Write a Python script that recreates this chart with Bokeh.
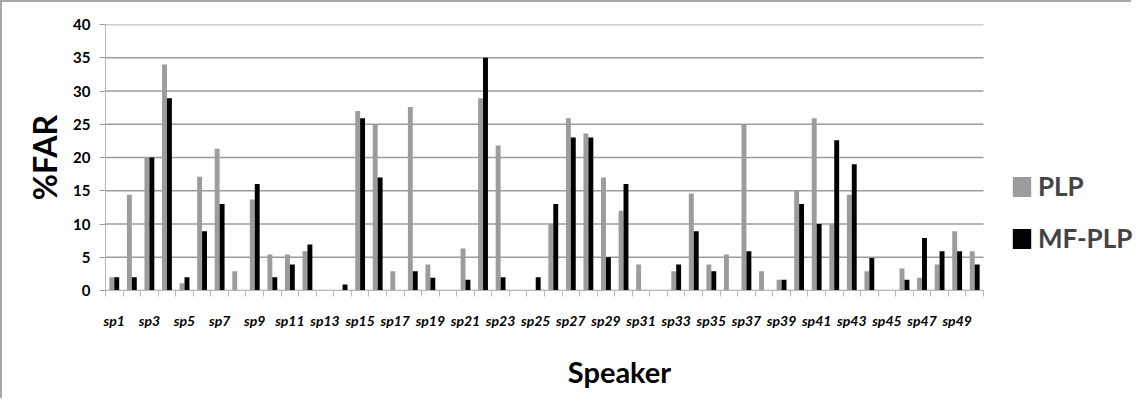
from bokeh.plotting import figure
from bokeh.models import (ColumnDataSource, Range1d, FixedTicker,
                          Legend, LegendItem)
from bokeh.transform import dodge
from bokeh.embed import file_html
from bokeh.resources import INLINE

speakers = [f"sp{i}" for i in range(1, 51)]
plp = [2, 14.4, 20, 34, 1.1, 17.1, 21.3, 2.9, 13.7, 5.4,
       5.4, 5.9, 0, 0, 27, 25, 2.9, 27.6, 3.9, 0,
       6.3, 28.9, 21.8, 0, 0, 10, 25.9, 23.6, 17, 12,
       3.9, 0, 2.9, 14.6, 3.9, 5.4, 25, 2.9, 1.6, 15,
       25.9, 10, 14.4, 2.9, 0, 3.3, 1.9, 3.9, 8.9, 5.9]
mf_plp = [2, 2, 20, 28.9, 2, 8.9, 13, 0, 16, 2,
          3.9, 6.9, 0, 0.9, 25.9, 17, 0, 2.9, 1.9, 0,
          1.6, 35, 2, 0, 2, 13, 23, 23, 5, 16,
          0, 0, 3.9, 8.9, 2.9, 0, 5.9, 0, 1.6, 13,
          10, 22.6, 19, 4.9, 0, 1.6, 7.9, 5.9, 5.9, 3.9]
y_ticks = [0, 5, 10, 15, 20, 25, 30, 35, 40]

n = len(speakers)
idx = list(range(1, n + 1))
src = ColumnDataSource(dict(x=idx, plp=plp, mf=mf_plp, name=speakers))

FONT = "Lato"
GRAY = "#9c9c9c"
AXC = "#b8b8b8"

W, H = 1131, 398
LEFT, TOP, BOTTOM = 103, 22, 110
PLOT_W = 878                      # pixel width of the category area
frame_w = W - LEFT
x_end = 0.5 + n * frame_w / PLOT_W  # extra room on the right for the legend

p = figure(width=W, height=H, output_backend="svg", toolbar_location=None,
           x_range=Range1d(0.5, x_end), y_range=Range1d(0, 40),
           min_border_left=LEFT, min_border_right=0, min_border_top=TOP,
           min_border_bottom=BOTTOM)
p.outline_line_color = None
p.background_fill_color = "white"
p.border_fill_color = "white"
p.styles = {"border-left": "2px solid #a8a8a8", "border-top": "2px solid #a8a8a8"}

# horizontal grid lines limited to the category area
p.xgrid.visible = False
p.ygrid.visible = False
p.segment(x0=0.5, x1=n + 0.5, y0=y_ticks, y1=y_ticks,
          line_color=GRAY, line_width=1.5, level="underlay")

r1 = p.vbar(x=dodge("x", -0.14, range=p.x_range), top="plp", width=0.28,
            source=src, fill_color=GRAY, line_color=None)
r2 = p.vbar(x=dodge("x", 0.14, range=p.x_range), top="mf", width=0.28,
            source=src, fill_color="black", line_color=None)

# y axis
ya = p.yaxis[0]
ya.ticker = FixedTicker(ticks=y_ticks)
ya.axis_line_color = AXC
ya.major_tick_line_color = GRAY
ya.major_tick_out = 6
ya.major_tick_in = 0
ya.minor_tick_line_color = None
ya.major_label_standoff = 9
ya.major_label_text_font = FONT
ya.major_label_text_font_style = "bold"
ya.major_label_text_font_size = "15px"
ya.major_label_text_color = "black"
ya.axis_label = "%FAR"
ya.axis_label_text_font = FONT
ya.axis_label_text_font_style = "bold"
ya.axis_label_text_font_size = "32px"
ya.axis_label_text_color = "black"
ya.axis_label_standoff = 6

# x axis: labels every other speaker, tick marks at category boundaries
odd = idx[::2]
xa = p.xaxis[0]
xa.bounds = (0.5, n + 0.5)
xa.ticker = FixedTicker(ticks=odd,
                        minor_ticks=[i + 0.5 for i in range(n + 1)])
xa.major_label_overrides = {i: speakers[i - 1] for i in odd}
xa.axis_line_color = AXC
xa.major_tick_line_color = None
xa.major_tick_out = 0
xa.major_tick_in = 0
xa.minor_tick_line_color = AXC
xa.minor_tick_out = 6
xa.minor_tick_in = 0
xa.major_label_standoff = 15
xa.major_label_text_font = FONT
xa.major_label_text_font_style = "bold italic"
xa.major_label_text_font_size = "14px"
xa.major_label_text_color = "black"
xa.axis_label = "Speaker"
xa.axis_label_text_font = FONT
xa.axis_label_text_font_style = "bold"
xa.axis_label_text_font_size = "29px"
xa.axis_label_text_color = "black"
xa.axis_label_standoff = 22

legend = Legend(items=[LegendItem(label="PLP", renderers=[r1]),
                       LegendItem(label="MF-PLP", renderers=[r2])],
                location=(905, 36), glyph_width=23, glyph_height=25,
                label_text_font=FONT, label_text_font_style="bold",
                label_text_font_size="26px", label_standoff=5, spacing=20,
                padding=0, margin=0, border_line_color=None,
                background_fill_alpha=0)
p.add_layout(legend)

open("out.html", "w").write(file_html(p, INLINE))
